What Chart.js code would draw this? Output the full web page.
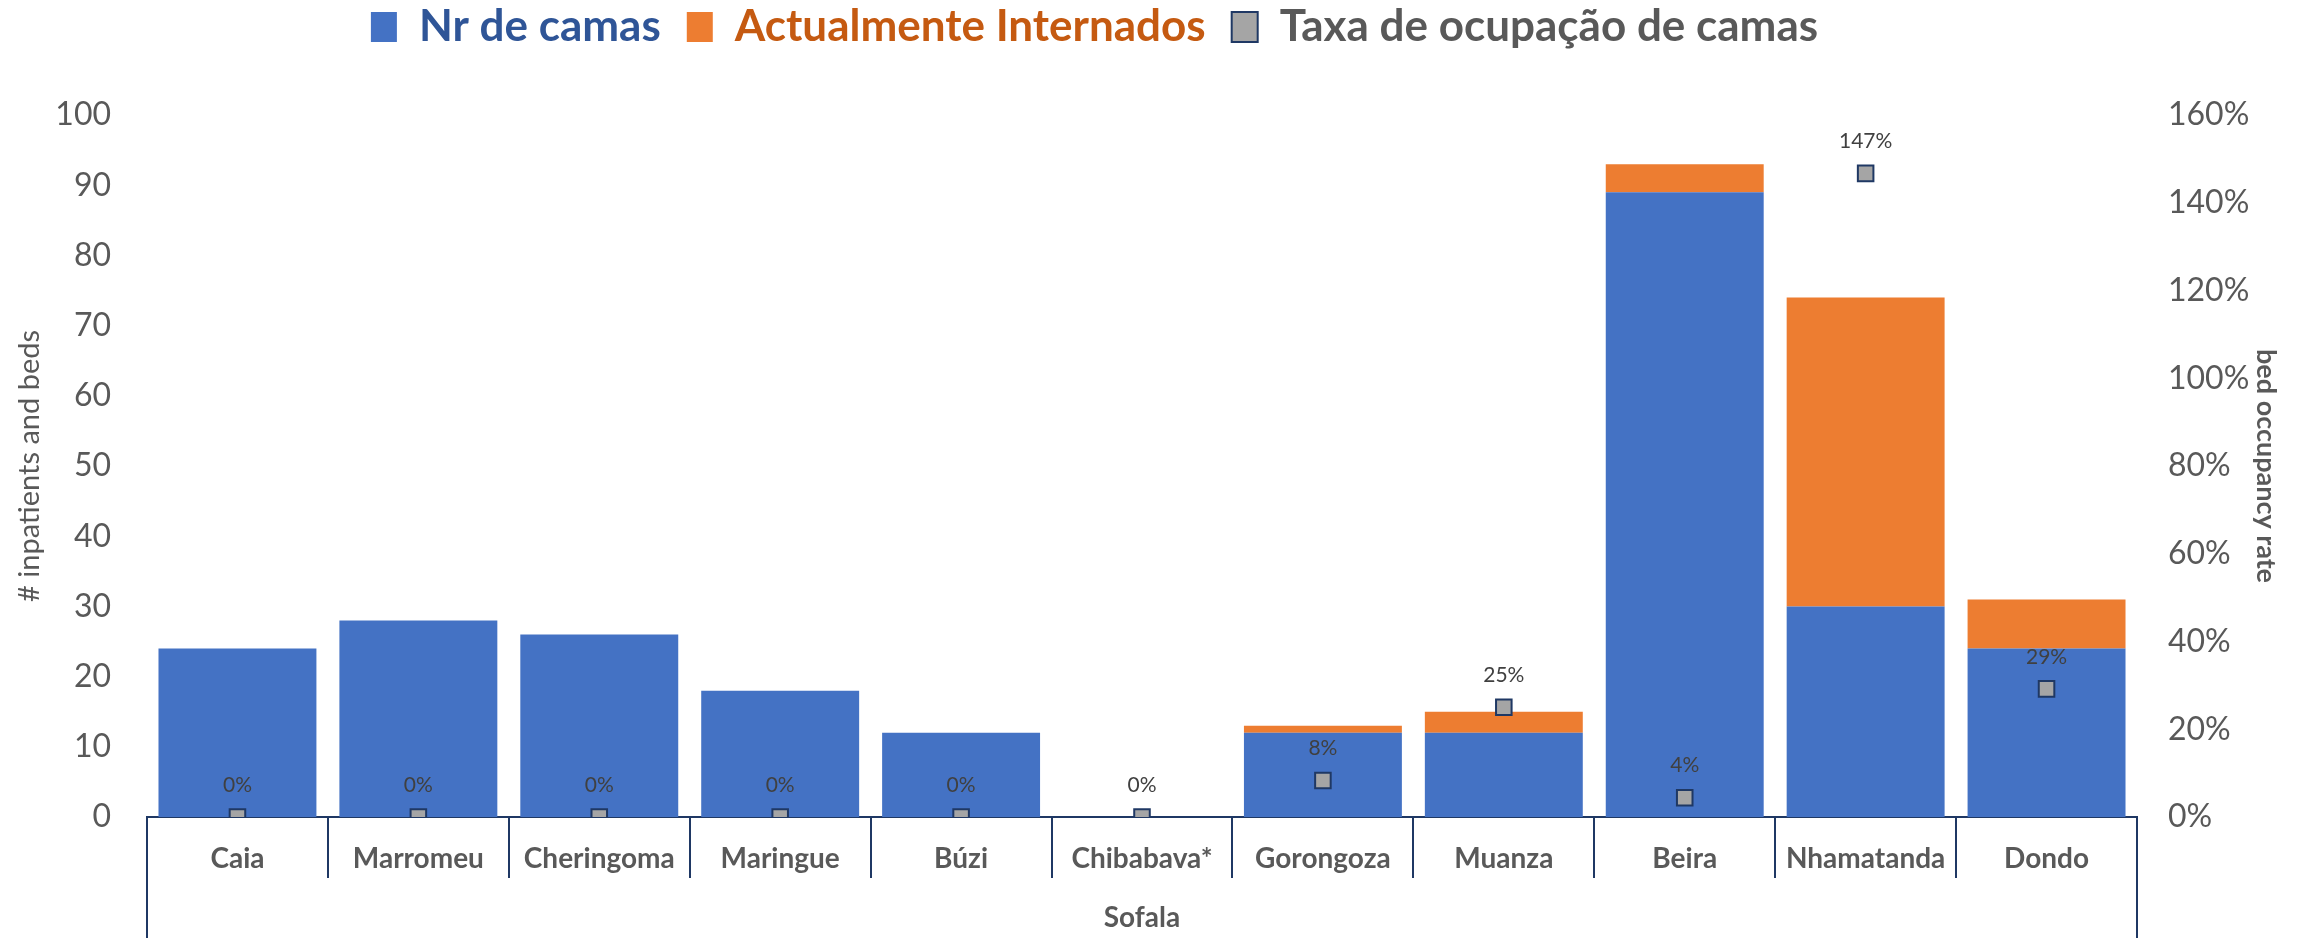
<!DOCTYPE html>
<html>
<head>
<meta charset="utf-8">
<script src="https://cdn.jsdelivr.net/npm/chart.js@4"></script>
<style>
html,body{margin:0;padding:0;background:#fff}
</style>
</head>
<body>
<canvas id="chart" width="2303" height="938"></canvas>
<script>
// data
const districts = ['Caia','Marromeu','Cheringoma','Maringue','Búzi','Chibabava*','Gorongoza','Muanza','Beira','Nhamatanda','Dondo']
const beds = [24,28,26,18,12,0,12,12,89,30,24]
const inpatients = [0,0,0,0,0,0,1,3,4,44,7]
const occupancy = [0,0,0,0,0,0,8.3,25,4.4,146.7,29.2]   // percent
const province = 'Sofala'

const FONT = 'Lato'
const NAVY = '#1F3864'
const GREY = '#595959'
const legendColors = ['#2F5597','#C55A11','#595959']

// excel-like legend: taller box above the plot, sitting a bit left of centre
const legendBox = {
    id: 'legendBox',
    beforeLayout(chart){
        const lg = chart.legend
        if (lg && !lg.patched) {
            const fit = lg.fit.bind(lg)
            lg.fit = function(){ fit(); this.height = 136 }
            lg.patched = true
        }
    },
    afterLayout(chart){
        if (chart.legend) chart.legend.right -= 114
    }
}

// percentage labels above the markers
const pointLabels = {
    id: 'pointLabels',
    afterDatasetsDraw(chart){
        const meta = chart.getDatasetMeta(2)
        const ctx = chart.ctx
        ctx.save()
        ctx.font = '21px ' + FONT
        ctx.fillStyle = '#404040'
        ctx.textAlign = 'center'
        ctx.textBaseline = 'middle'
        meta.data.forEach((pt, i) => {
            ctx.fillText(Math.round(occupancy[i]) + '%', pt.x, pt.y - 32)
        })
        ctx.restore()
    }
}

// outer box of the grouped category axis
const groupBox = {
    id: 'groupBox',
    afterDraw(chart){
        const {ctx, chartArea} = chart
        ctx.save()
        ctx.strokeStyle = NAVY
        ctx.lineWidth = 2
        ctx.beginPath()
        ctx.moveTo(chartArea.left, chartArea.bottom)
        ctx.lineTo(chartArea.left, chart.height)
        ctx.moveTo(chartArea.right, chartArea.bottom)
        ctx.lineTo(chartArea.right, chart.height)
        ctx.stroke()
        ctx.restore()
    }
}

new Chart(document.getElementById('chart'), {
    type: 'bar',
    data: {
        labels: districts,
        datasets: [{
            label: 'Nr de camas',
            data: beds,
            backgroundColor: '#4472C4',
            yAxisID: 'y',
            order: 1
        },{
            label: 'Actualmente Internados',
            data: inpatients,
            backgroundColor: '#ED7D31',
            yAxisID: 'y',
            order: 1
        },{
            type: 'line',
            label: 'Taxa de ocupação de camas',
            data: occupancy,
            yAxisID: 'y1',
            showLine: false,
            pointStyle: 'rect',
            pointRadius: 11,
            backgroundColor: '#A5A5A5',
            borderColor: NAVY,
            borderWidth: 2,
            order: 0
        }]
    },
    options: {
        responsive: false,
        animation: false,
        layout: {padding: {top: -21, left: 0, right: 0, bottom: 0}},
        datasets: {bar: {categoryPercentage: 1, barPercentage: 0.873}},
        plugins: {
            tooltip: {enabled: false},
            legend: {
                position: 'top',
                labels: {
                    boxWidth: 26,
                    boxHeight: 30,
                    padding: 26,
                    font: {family: FONT, size: 44, weight: 'bold'},
                    sort: (a, b) => a.datasetIndex - b.datasetIndex,
                    generateLabels(chart){
                        const items = Chart.defaults.plugins.legend.labels.generateLabels(chart)
                        items.forEach(it => { it.fontColor = legendColors[it.datasetIndex] })
                        return items
                    }
                }
            }
        },
        scales: {
            x: {
                stacked: true,
                grid: {offset: true, drawOnChartArea: false, drawTicks: true, tickLength: 61, color: NAVY, lineWidth: 2},
                border: {display: true, color: NAVY, width: 2},
                ticks: {font: {family: FONT, size: 28, weight: 'bold'}, color: GREY, padding: -36, maxRotation: 0, autoSkip: false},
                title: {display: true, text: province, font: {family: FONT, size: 28, weight: 'bold'}, color: GREY, padding: {top: 0, bottom: 3}},
                afterFit(scale){ scale.height = 121 }
            },
            y: {
                position: 'left',
                stacked: true,
                min: 0,
                max: 100,
                grid: {display: false, drawTicks: false},
                border: {display: false},
                ticks: {stepSize: 10, padding: 36, font: {family: FONT, size: 32}, color: GREY},
                title: {display: true, text: '# inpatients and beds', font: {family: FONT, size: 29}, color: GREY, padding: {top: 12, bottom: 0}},
                afterFit(scale){ scale.width = 147 }
            },
            y1: {
                position: 'right',
                min: 0,
                max: 160,
                grid: {display: false, drawTicks: false},
                border: {display: false},
                ticks: {stepSize: 20, padding: 31, font: {family: FONT, size: 32}, color: GREY, callback: v => v + '%'},
                title: {display: true, text: 'bed occupancy rate', font: {family: FONT, size: 27, weight: 'bold'}, color: GREY, padding: {top: 21, bottom: 0}},
                afterFit(scale){ scale.width = 166 }
            }
        }
    },
    plugins: [legendBox, pointLabels, groupBox]
})
</script>
</body>
</html>
